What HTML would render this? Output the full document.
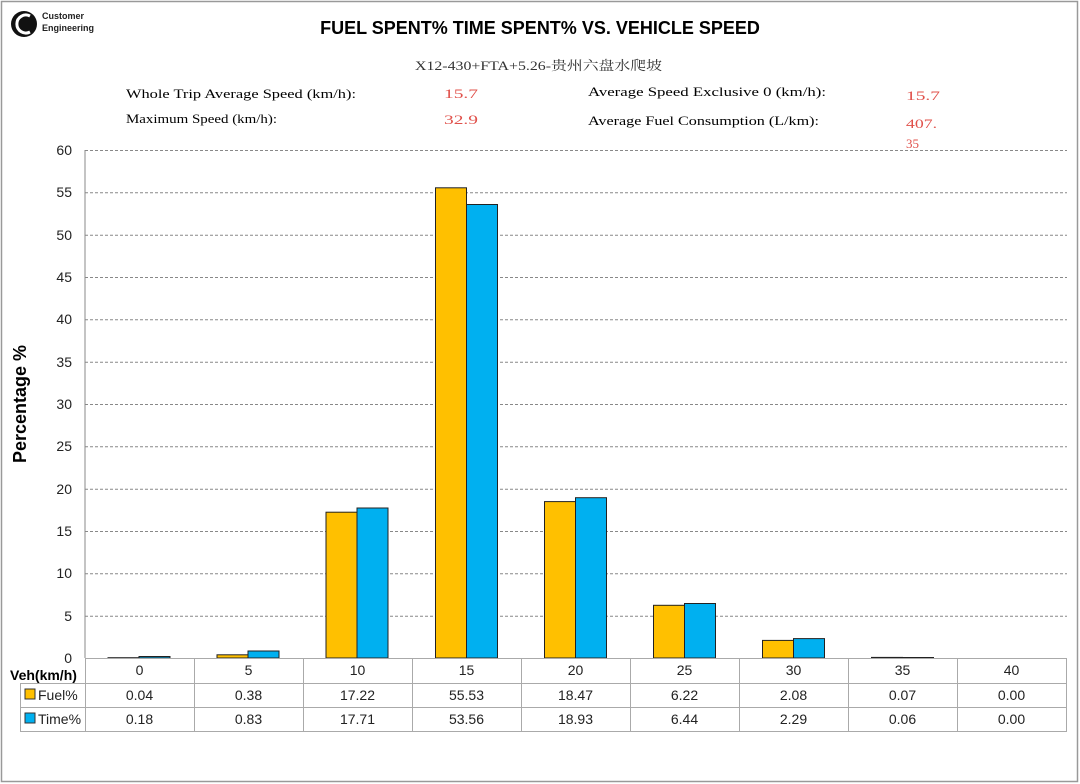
<!DOCTYPE html>
<html><head><meta charset="utf-8"><style>
body{margin:0;background:#fff}
svg{display:block}
text{font-family:"Liberation Sans","Noto Sans CJK SC",sans-serif}
.s{font-family:"Liberation Serif","Noto Serif CJK SC","Noto Sans CJK SC",serif;font-size:13px}
</style></head><body>
<svg width="1080" height="784" viewBox="0 0 1080 784" xmlns="http://www.w3.org/2000/svg">
<rect x="0" y="0" width="1080" height="784" fill="#fff"/>
<rect x="1.5" y="1.5" width="1076" height="780" fill="none" stroke="#999" stroke-width="1.5"/>
<circle cx="24" cy="24" r="13" fill="#111"/>
<path d="M30 16 A9 9 0 1 0 30 32" fill="none" stroke="#fff" stroke-width="3"/>
<text x="42" y="19" font-size="9" font-weight="bold" fill="#222">Customer</text>
<text x="42" y="31" font-size="9" font-weight="bold" fill="#222">Engineering</text>
<text x="540" y="34" font-size="18" font-weight="bold" text-anchor="middle" fill="#000">FUEL SPENT% TIME SPENT% VS. VEHICLE SPEED</text>
<text x="415" y="70" class="s" font-size="14" fill="#333" textLength="247" lengthAdjust="spacingAndGlyphs">X12-430+FTA+5.26-贵州六盘水爬坡</text>
<text x="126" y="98" class="s" fill="#000" textLength="230" lengthAdjust="spacingAndGlyphs">Whole Trip Average Speed (km/h):</text>
<text x="444" y="98" class="s" fill="#e0504a" font-size="14" textLength="34" lengthAdjust="spacingAndGlyphs">15.7</text>
<text x="588" y="96" class="s" fill="#000" textLength="238" lengthAdjust="spacingAndGlyphs">Average Speed Exclusive 0 (km/h):</text>
<text x="906" y="100" class="s" fill="#e0504a" font-size="14" textLength="34" lengthAdjust="spacingAndGlyphs">15.7</text>
<text x="126" y="123" class="s" fill="#000" textLength="151" lengthAdjust="spacingAndGlyphs">Maximum Speed (km/h):</text>
<text x="444" y="124" class="s" fill="#e0504a" font-size="14" textLength="34" lengthAdjust="spacingAndGlyphs">32.9</text>
<text x="588" y="125" class="s" fill="#000" textLength="231" lengthAdjust="spacingAndGlyphs">Average Fuel Consumption (L/km):</text>
<text x="906" y="128" class="s" fill="#e0504a" font-size="14" textLength="31" lengthAdjust="spacingAndGlyphs">407.</text>
<text x="906" y="148" class="s" fill="#e0504a" font-size="14">35</text>
<g stroke="#888" stroke-dasharray="3,2" stroke-width="1">
<line x1="85" x2="1067" y1="150.5" y2="150.5"/>
<line x1="85" x2="1067" y1="192.8" y2="192.8"/>
<line x1="85" x2="1067" y1="235.2" y2="235.2"/>
<line x1="85" x2="1067" y1="277.5" y2="277.5"/>
<line x1="85" x2="1067" y1="319.8" y2="319.8"/>
<line x1="85" x2="1067" y1="362.2" y2="362.2"/>
<line x1="85" x2="1067" y1="404.5" y2="404.5"/>
<line x1="85" x2="1067" y1="446.8" y2="446.8"/>
<line x1="85" x2="1067" y1="489.2" y2="489.2"/>
<line x1="85" x2="1067" y1="531.5" y2="531.5"/>
<line x1="85" x2="1067" y1="573.8" y2="573.8"/>
<line x1="85" x2="1067" y1="616.2" y2="616.2"/>
</g>
<line x1="85" x2="85" y1="150" y2="658" stroke="#888"/>
<g font-size="14" text-anchor="end" fill="#222">
<text x="72" y="155">60</text><text x="72" y="197">55</text><text x="72" y="240">50</text>
<text x="72" y="282">45</text><text x="72" y="324">40</text><text x="72" y="367">35</text>
<text x="72" y="409">30</text><text x="72" y="451">25</text><text x="72" y="494">20</text>
<text x="72" y="536">15</text><text x="72" y="578">10</text><text x="72" y="621">5</text>
<text x="72" y="663">0</text>
</g>
<text transform="translate(26,404) rotate(-90)" font-size="18" font-weight="bold" text-anchor="middle">Percentage %</text>
<g stroke="#222" stroke-width="1">
<rect x="108" y="657.7" width="31" height="0.3" fill="#FFC000"/>
<rect x="139" y="656.5" width="31" height="1.5" fill="#00B0F0"/>
<rect x="217" y="654.8" width="31" height="3.2" fill="#FFC000"/>
<rect x="248" y="651" width="31" height="7" fill="#00B0F0"/>
<rect x="326" y="512.2" width="31" height="145.8" fill="#FFC000"/>
<rect x="357" y="508" width="31" height="150" fill="#00B0F0"/>
<rect x="435.5" y="187.8" width="31" height="470.2" fill="#FFC000"/>
<rect x="466.5" y="204.5" width="31" height="453.5" fill="#00B0F0"/>
<rect x="544.5" y="501.6" width="31" height="156.4" fill="#FFC000"/>
<rect x="575.5" y="497.7" width="31" height="160.3" fill="#00B0F0"/>
<rect x="653.5" y="605.3" width="31" height="52.7" fill="#FFC000"/>
<rect x="684.5" y="603.5" width="31" height="54.5" fill="#00B0F0"/>
<rect x="762.5" y="640.4" width="31" height="17.6" fill="#FFC000"/>
<rect x="793.5" y="638.6" width="31" height="19.4" fill="#00B0F0"/>
<rect x="871.5" y="657.4" width="31" height="0.6" fill="#FFC000"/>
<rect x="902.5" y="657.5" width="31" height="0.5" fill="#00B0F0"/>
</g>
<g stroke="#aaa" stroke-width="1" fill="none">
<line x1="85" x2="1067" y1="658.5" y2="658.5"/>
<line x1="20" x2="1067" y1="683.5" y2="683.5"/>
<line x1="20" x2="1067" y1="707.5" y2="707.5"/>
<line x1="20" x2="1067" y1="731.5" y2="731.5"/>
<line x1="20.5" x2="20.5" y1="683" y2="731"/>
<line x1="85.5" x2="85.5" y1="658" y2="731"/>
<line x1="194.5" x2="194.5" y1="658" y2="731"/>
<line x1="303.5" x2="303.5" y1="658" y2="731"/>
<line x1="412.5" x2="412.5" y1="658" y2="731"/>
<line x1="521.5" x2="521.5" y1="658" y2="731"/>
<line x1="630.5" x2="630.5" y1="658" y2="731"/>
<line x1="739.5" x2="739.5" y1="658" y2="731"/>
<line x1="848.5" x2="848.5" y1="658" y2="731"/>
<line x1="957.5" x2="957.5" y1="658" y2="731"/>
<line x1="1066.5" x2="1066.5" y1="658" y2="731"/>
</g>
<text x="10" y="680" font-size="14" font-weight="bold">Veh(km/h)</text>
<rect x="25" y="689" width="10" height="10" fill="#FFC000" stroke="#333"/>
<text x="38" y="700" font-size="14" fill="#222">Fuel%</text>
<rect x="25" y="713" width="10" height="10" fill="#00B0F0" stroke="#333"/>
<text x="38" y="724" font-size="14" fill="#222">Time%</text>
<g font-size="14" text-anchor="middle" fill="#222">
<text x="139.5" y="675">0</text><text x="248.5" y="675">5</text><text x="357.5" y="675">10</text>
<text x="466.5" y="675">15</text><text x="575.5" y="675">20</text><text x="684.5" y="675">25</text>
<text x="793.5" y="675">30</text><text x="902.5" y="675">35</text><text x="1011.5" y="675">40</text>
<text x="139.5" y="700">0.04</text><text x="248.5" y="700">0.38</text><text x="357.5" y="700">17.22</text>
<text x="466.5" y="700">55.53</text><text x="575.5" y="700">18.47</text><text x="684.5" y="700">6.22</text>
<text x="793.5" y="700">2.08</text><text x="902.5" y="700">0.07</text><text x="1011.5" y="700">0.00</text>
<text x="139.5" y="724">0.18</text><text x="248.5" y="724">0.83</text><text x="357.5" y="724">17.71</text>
<text x="466.5" y="724">53.56</text><text x="575.5" y="724">18.93</text><text x="684.5" y="724">6.44</text>
<text x="793.5" y="724">2.29</text><text x="902.5" y="724">0.06</text><text x="1011.5" y="724">0.00</text>
</g>
</svg>
</body></html>
